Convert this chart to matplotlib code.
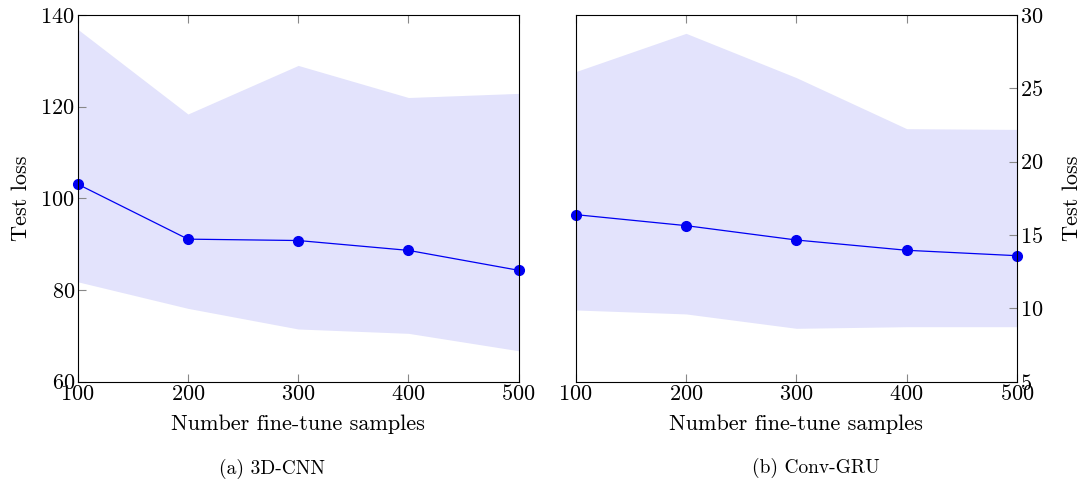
import matplotlib
matplotlib.use("Agg")
from matplotlib import pyplot as plt

plt.rcParams["font.family"] = ["cmr10", "DejaVu Serif"]
plt.rcParams["mathtext.fontset"] = "cm"
plt.rcParams["axes.formatter.use_mathtext"] = True
plt.rcParams["font.size"] = 16

samples = [100, 200, 300, 400, 500]

# (a) 3D-CNN
cnn_mean = [103.1, 91.1, 90.8, 88.65, 84.3]
cnn_upper = [136.9, 118.4, 129.0, 122.0, 122.9]
cnn_lower = [81.8, 76.0, 71.5, 70.55, 66.75]

# (b) Conv-GRU
gru_mean = [16.39, 15.64, 14.66, 13.96, 13.59]
gru_upper = [26.14, 28.75, 25.73, 22.25, 22.2]
gru_lower = [9.89, 9.62, 8.64, 8.75, 8.75]

fill_color = (0.89, 0.89, 0.99)
line_color = (0.0, 0.0, 0.95)

fig = plt.figure(figsize=(10.8, 4.79), dpi=100)
W, H = 1080, 479
ax1 = fig.add_axes([77.7 / W, 1 - 381.7 / H, 441 / W, 366.7 / H])
ax2 = fig.add_axes([575.7 / W, 1 - 381.7 / H, 441.3 / W, 366.7 / H])


def draw_panel(ax, mean, upper, lower, ylim, yticks, right=False):
    ax.fill_between(samples, lower, upper, color=fill_color, linewidth=0, zorder=1)
    ax.plot(samples, mean, color=line_color, linewidth=0.9, marker="o",
            markersize=7, clip_on=False, zorder=3)
    ax.set_xlim(100, 500)
    ax.set_ylim(*ylim)
    ax.set_xticks(samples)
    ax.set_yticks(yticks)
    ax.tick_params(direction="in", length=6, width=0.8, color="#888888",
                   top=True, labelsize=16, pad=2)
    if right:
        ax.yaxis.tick_right()
        ax.yaxis.set_label_position("right")
        ax.tick_params(axis="y", direction="in", length=6, color="#888888")
        ax.set_ylabel("Test loss", fontsize=16, labelpad=14, rotation=90)
    else:
        ax.set_ylabel("Test loss", fontsize=16, labelpad=7)
    for s in ax.spines.values():
        s.set_linewidth(0.8)
        s.set_zorder(4)
    ax.set_xlabel("Number fine-tune samples", fontsize=16, labelpad=7)


draw_panel(ax1, cnn_mean, cnn_upper, cnn_lower, (60, 140),
           [60, 80, 100, 120, 140])
draw_panel(ax2, gru_mean, gru_upper, gru_lower, (5, 30),
           [5, 10, 15, 20, 25, 30], right=True)

fig.text(272 / W, 1 - 469 / H, "(a) 3D-CNN", ha="center", va="center", fontsize=14)
fig.text(816 / W, 1 - 468 / H, "(b) Conv-GRU", ha="center", va="center", fontsize=14)

fig.savefig("out.png", dpi=100)
